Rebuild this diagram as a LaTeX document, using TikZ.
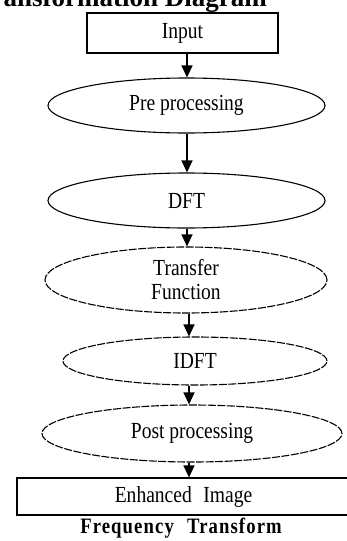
\documentclass[tikz,border=0pt]{standalone}
\usepackage{fontspec}
\setmainfont[FakeStretch=0.85]{Liberation Serif}
\newfontfamily\titlefont{Liberation Serif}
\newfontfamily\capfont[FakeStretch=0.85,LetterSpace=5]{Liberation Serif}
\usetikzlibrary{shapes.geometric,arrows.meta}
\begin{document}
\begin{tikzpicture}[x=1pt,y=-1pt,
  every node/.style={font=\fontsize{23}{24}\selectfont, inner sep=0pt, align=center},
  boxnode/.style={draw, line width=1.1pt, rectangle},
  solidell/.style={draw, line width=1.1pt, ellipse},
  dashell/.style={draw, line width=1.1pt, ellipse, dash pattern=on 8pt off 1.5pt},
  arr/.style={line width=1.1pt, -{Triangle[width=11pt,length=12pt]}}]
\useasboundingbox (0,0) rectangle (347,541);
\clip (0,0) rectangle (347,541);
% title (cut by the page top, as in the reference)
\node[anchor=base east, font=\fontsize{27}{27}\titlefont\bfseries] (title) at (267,6.5) {Transformation Diagram};
% nodes
\node[boxnode, minimum width=191pt, minimum height=40pt] (input) at (182.5,33) {Input};
\node[solidell, minimum width=277pt, minimum height=55pt] (pre) at (186.5,105.5) {Pre processing};
\node[solidell, minimum width=277pt, minimum height=55pt] (dft) at (186.5,200.5) {DFT};
\node[dashell, minimum width=282pt, minimum height=66pt] (tf) at (186,280) {Transfer\\Function};
\node[dashell, minimum width=264pt, minimum height=48pt] (idft) at (195,361) {IDFT};
\node[dashell, minimum width=300pt, minimum height=57pt] (post) at (192,433.5) {Post processing};
\node[boxnode, minimum width=333pt, minimum height=37pt] (out) at (183.5,496.5) {Enhanced\hspace{0.5em}Image};
\node[anchor=base, font=\fontsize{22}{22}\capfont\bfseries] (cap) at (181,533) {Frequency\hspace{0.6em}Transform};
% connectors
\coordinate (a1) at (187,0);
\draw[arr] (a1 |- input.south) -- (a1 |- pre.north);
\draw[arr] (a1 |- pre.south) -- (a1 |- dft.north);
\draw[arr] (a1 |- dft.south) -- (a1 |- tf.north);
\coordinate (a2) at (189,0);
\draw[arr] (a2 |- tf.south) -- (a2 |- idft.north);
\draw[arr] (a2 |- idft.south) -- (a2 |- post.north);
\draw[arr] (a2 |- post.south) -- (a2 |- out.north);
\end{tikzpicture}
\end{document}
